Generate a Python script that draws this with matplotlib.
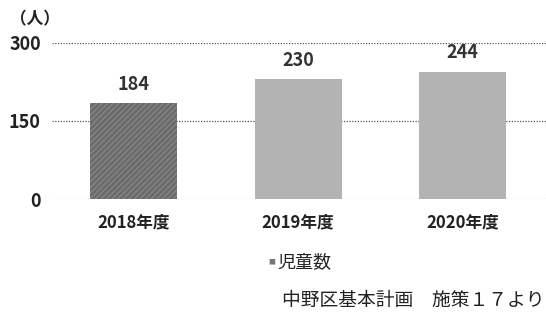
import matplotlib
matplotlib.use("Agg")
import matplotlib.pyplot as plt

# data
years = ["2018年度", "2019年度", "2020年度"]
children = [184, 230, 244]
yticks = [0, 150, 300]

plt.rcParams['font.family'] = ['Liberation Sans Narrow', 'Noto Sans CJK JP', 'DejaVu Sans']

fig = plt.figure(figsize=(5.46, 3.2), dpi=100)
ax = fig.add_axes([0.095, 0.378, 0.905, 0.488])

x = range(len(years))
cols = ['#6a6a6a', '#b3b3b3', '#b3b3b3']
bars = ax.bar(x, children, width=0.53, color=cols, zorder=3)
bars[0].set_hatch('//////')
bars[0].set_edgecolor('#858585')
bars[0].set_linewidth(0)

for xi, v in zip(x, children):
    ax.annotate(str(v), (xi, v), xytext=(0, 7), textcoords='offset points',
                ha='center', va='bottom', fontsize=13, fontweight='bold',
                color='#333333', annotation_clip=False)

ax.set_xlim(-0.5, 2.51)
ax.set_ylim(0, 300)
ax.set_yticks(yticks)
ax.set_yticklabels([str(t) for t in yticks], fontsize=13, fontweight='bold', color='#222222')
ax.set_xticks(list(x))
ax.set_xticklabels(years, fontsize=12, fontweight='bold', color='#222222')
ax.tick_params(length=0, pad=8)
ax.tick_params(axis='x', pad=10)

for t in yticks:
    ax.axhline(t, color='#555555' if t else '#aaaaaa', linestyle=(0, (1, 1.2)),
               linewidth=0.9, zorder=1)
for s in ax.spines.values():
    s.set_visible(False)

fig.text(0.018, 0.94, '（人）', fontsize=12, fontweight='bold', color='#222222',
         va='center', family=['Noto Sans CJK JP'])

# legend
fig.text(0.497, 0.18, '■', fontsize=5, color='#777777', va='center', ha='center')
fig.text(0.508, 0.18, '児童数', fontsize=13, color='#222222',
         va='center', ha='left', family=['Noto Sans CJK JP'])

fig.text(0.998, 0.06, '中野区基本計画　施策１７より', fontsize=13.5, color='#222222',
         va='center', ha='right', family=['Noto Sans CJK JP'])

fig.savefig('out.png', dpi=100)
